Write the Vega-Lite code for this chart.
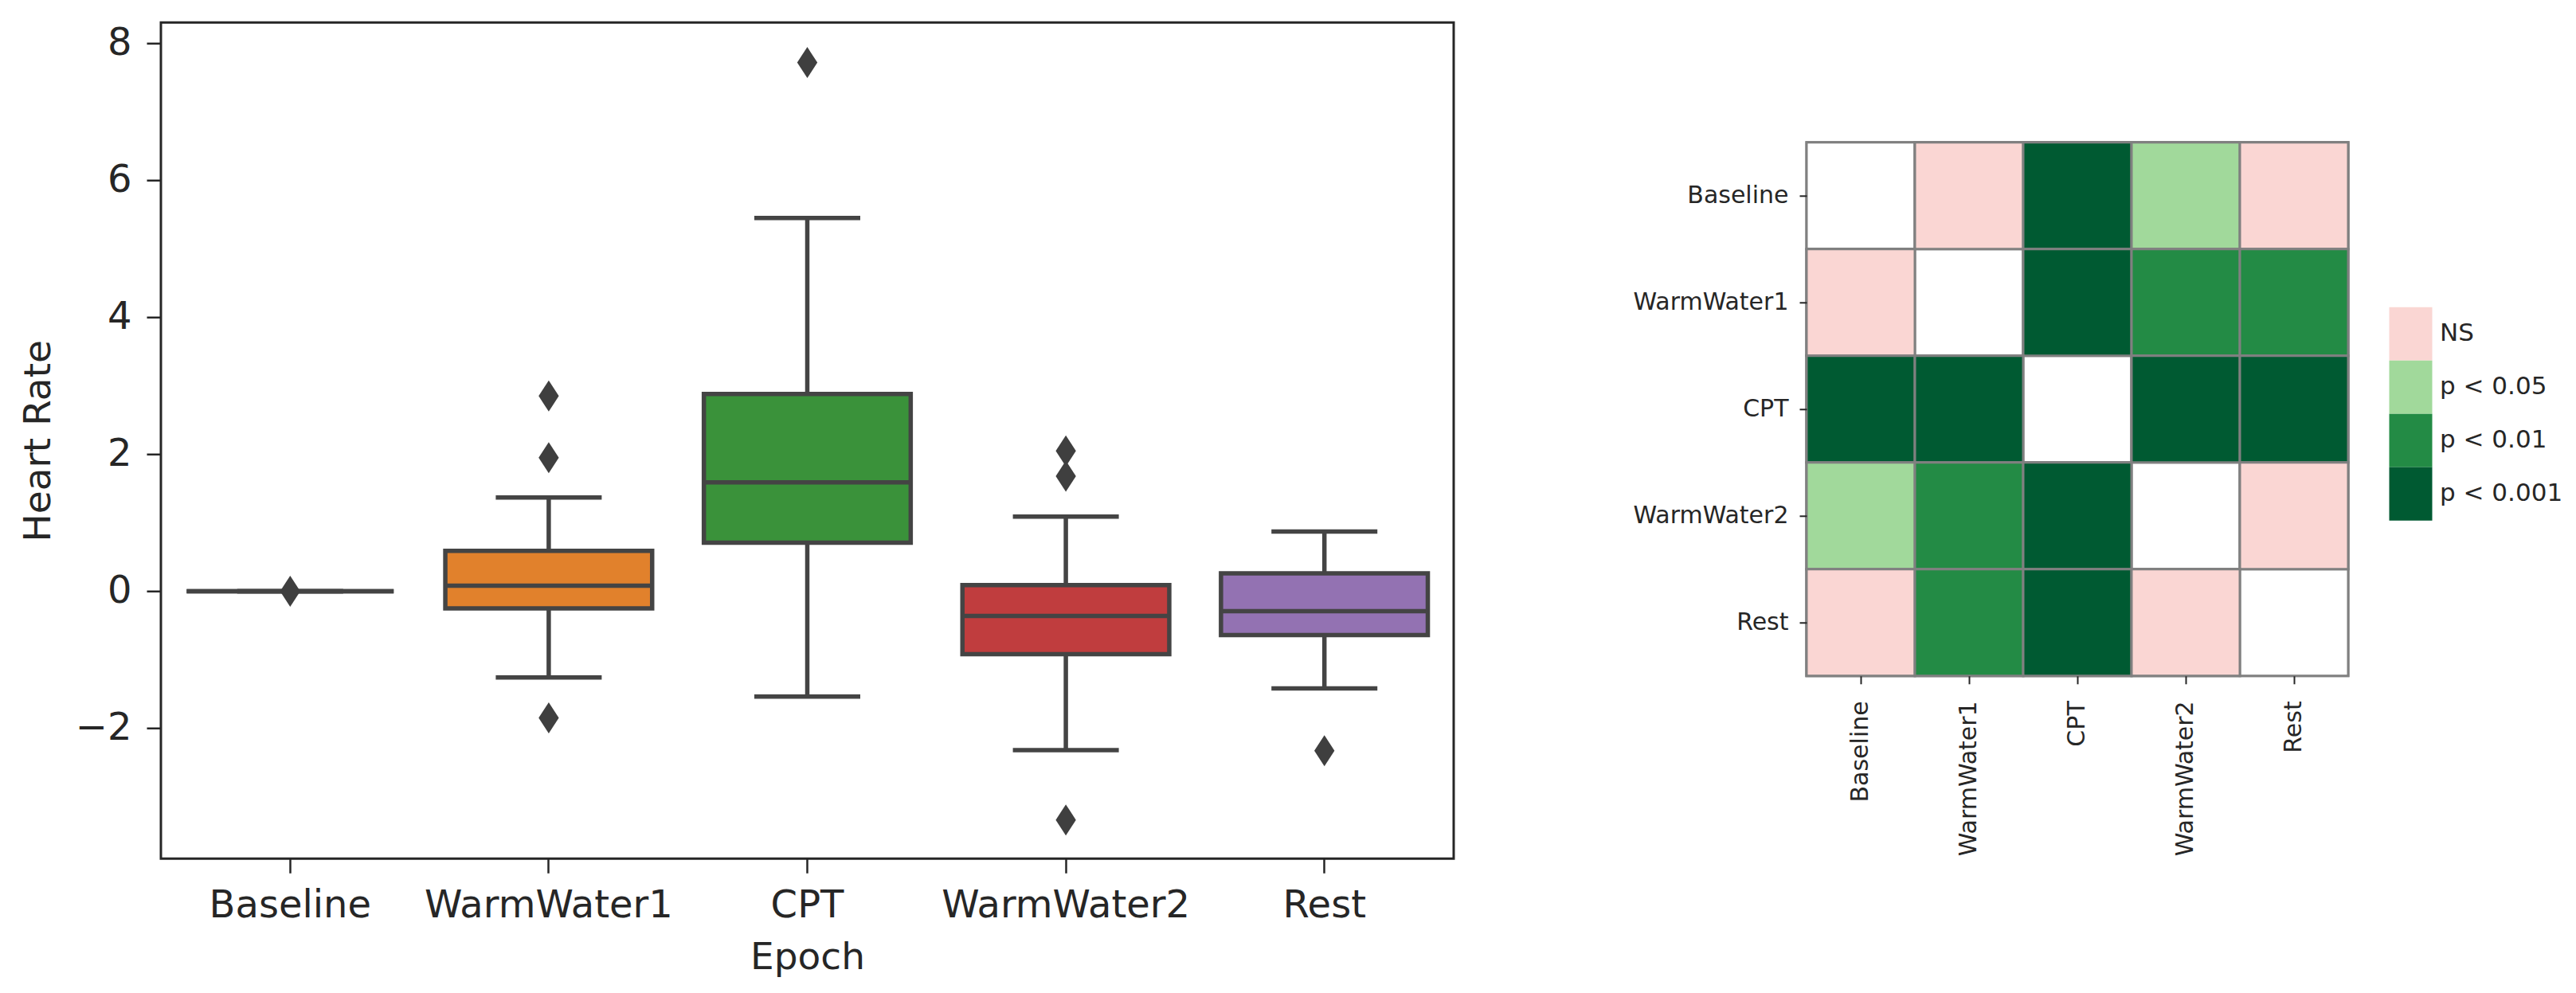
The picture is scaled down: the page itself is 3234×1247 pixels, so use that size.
{
  "$schema": "https://vega.github.io/schema/vega-lite/v6.json",
  "background": "white",
  "padding": {"left": 22, "top": 26, "right": 10, "bottom": 5},
  "config": {"font": "DejaVu Sans", "view": {"stroke": null}, "axis": {"labelLimit": 0}},
  "center": true,
  "spacing": 221,
  "resolve": {"scale": {"color": "independent", "x": "independent", "y": "independent"}},
  "hconcat": [
    {
      "width": 1623,
      "height": 1050,
      "view": {"stroke": "#262626", "strokeWidth": 3},
      "layer": [
        {
          "data": {"name": "summary", "values": [
            {"epoch": "Baseline", "lower": 0, "q1": 0, "median": 0, "q3": 0, "upper": 0},
            {"epoch": "WarmWater1", "lower": -1.26, "q1": -0.25, "median": 0.08, "q3": 0.59, "upper": 1.37},
            {"epoch": "CPT", "lower": -1.54, "q1": 0.71, "median": 1.59, "q3": 2.88, "upper": 5.45},
            {"epoch": "WarmWater2", "lower": -2.32, "q1": -0.92, "median": -0.36, "q3": 0.09, "upper": 1.09},
            {"epoch": "Rest", "lower": -1.42, "q1": -0.64, "median": -0.29, "q3": 0.26, "upper": 0.87}
          ]},
          "layer": [
            {
              "mark": {"type": "rule", "color": "#444444", "strokeWidth": 5.5},
              "encoding": {
                "x": {"field": "epoch", "type": "nominal",
                  "scale": {"domain": ["Baseline", "WarmWater1", "CPT", "WarmWater2", "Rest"], "paddingInner": 0, "paddingOuter": 0},
                  "axis": {"title": "Epoch", "labelAngle": 0, "domain": false, "ticks": true, "tickSize": 18, "tickWidth": 2.5, "tickColor": "#262626",
                    "labelFontSize": 48, "labelColor": "#262626", "labelPadding": 17,
                    "titleFontSize": 47, "titleFontWeight": "normal", "titleColor": "#262626", "titlePadding": 18}},
                "y": {"field": "lower", "type": "quantitative",
                  "scale": {"domain": [-3.905, 8.305], "nice": false, "zero": false},
                  "axis": {"title": "Heart Rate", "values": [-2, 0, 2, 4, 6, 8], "format": "d", "grid": false, "domain": false, "tickSize": 18, "tickWidth": 2.5, "tickColor": "#262626",
                    "labelFontSize": 48, "labelColor": "#262626", "labelPadding": 19,
                    "titleFontSize": 47, "titleFontWeight": "normal", "titleColor": "#262626", "titlePadding": 22}},
                "y2": {"field": "upper"}
              }
            },
            {
              "mark": {"type": "bar", "stroke": "#444444", "strokeWidth": 5.5, "width": {"band": 0.8}, "fillOpacity": 1},
              "encoding": {
                "x": {"field": "epoch", "type": "nominal"},
                "y": {"field": "q1", "type": "quantitative"},
                "y2": {"field": "q3"},
                "color": {"field": "epoch", "type": "nominal",
                  "scale": {"domain": ["Baseline", "WarmWater1", "CPT", "WarmWater2", "Rest"], "range": ["#3274a1", "#e1812c", "#3a923a", "#c03d3e", "#9372b2"]},
                  "legend": null}
              }
            },
            {
              "mark": {"type": "tick", "color": "#444444", "thickness": 5.5, "size": 260, "orient": "horizontal", "opacity": 1},
              "encoding": {
                "x": {"field": "epoch", "type": "nominal"},
                "y": {"field": "median", "type": "quantitative"}
              }
            },
            {
              "mark": {"type": "tick", "color": "#444444", "thickness": 5.5, "size": 133, "orient": "horizontal", "opacity": 1},
              "encoding": {
                "x": {"field": "epoch", "type": "nominal"},
                "y": {"field": "lower", "type": "quantitative"}
              }
            },
            {
              "mark": {"type": "tick", "color": "#444444", "thickness": 5.5, "size": 133, "orient": "horizontal", "opacity": 1},
              "encoding": {
                "x": {"field": "epoch", "type": "nominal"},
                "y": {"field": "upper", "type": "quantitative"}
              }
            }
          ]
        },
        {
          "data": {"name": "outliers", "values": [
            {"epoch": "Baseline", "value": 0.0},
            {"epoch": "WarmWater1", "value": 2.85},
            {"epoch": "WarmWater1", "value": 1.95},
            {"epoch": "WarmWater1", "value": -1.85},
            {"epoch": "CPT", "value": 7.72},
            {"epoch": "WarmWater2", "value": 2.05},
            {"epoch": "WarmWater2", "value": 1.68},
            {"epoch": "WarmWater2", "value": -3.34},
            {"epoch": "Rest", "value": -2.33}
          ]},
          "mark": {"type": "point", "shape": "M0,-1L0.65,0L0,1L-0.65,0Z", "size": 1521, "filled": true, "color": "#3f3f3f", "opacity": 1},
          "encoding": {
            "x": {"field": "epoch", "type": "nominal"},
            "y": {"field": "value", "type": "quantitative"}
          }
        }
      ]
    },
    {
      "width": 680,
      "height": 670,
      "view": {"stroke": "#808080", "strokeWidth": 3},
      "data": {"values": [
        {"row": "Baseline", "col": "Baseline", "level": null},
        {"row": "Baseline", "col": "WarmWater1", "level": "NS"},
        {"row": "Baseline", "col": "CPT", "level": "p < 0.001"},
        {"row": "Baseline", "col": "WarmWater2", "level": "p < 0.05"},
        {"row": "Baseline", "col": "Rest", "level": "NS"},
        {"row": "WarmWater1", "col": "Baseline", "level": "NS"},
        {"row": "WarmWater1", "col": "WarmWater1", "level": null},
        {"row": "WarmWater1", "col": "CPT", "level": "p < 0.001"},
        {"row": "WarmWater1", "col": "WarmWater2", "level": "p < 0.01"},
        {"row": "WarmWater1", "col": "Rest", "level": "p < 0.01"},
        {"row": "CPT", "col": "Baseline", "level": "p < 0.001"},
        {"row": "CPT", "col": "WarmWater1", "level": "p < 0.001"},
        {"row": "CPT", "col": "CPT", "level": null},
        {"row": "CPT", "col": "WarmWater2", "level": "p < 0.001"},
        {"row": "CPT", "col": "Rest", "level": "p < 0.001"},
        {"row": "WarmWater2", "col": "Baseline", "level": "p < 0.05"},
        {"row": "WarmWater2", "col": "WarmWater1", "level": "p < 0.01"},
        {"row": "WarmWater2", "col": "CPT", "level": "p < 0.001"},
        {"row": "WarmWater2", "col": "WarmWater2", "level": null},
        {"row": "WarmWater2", "col": "Rest", "level": "NS"},
        {"row": "Rest", "col": "Baseline", "level": "NS"},
        {"row": "Rest", "col": "WarmWater1", "level": "p < 0.01"},
        {"row": "Rest", "col": "CPT", "level": "p < 0.001"},
        {"row": "Rest", "col": "WarmWater2", "level": "NS"},
        {"row": "Rest", "col": "Rest", "level": null}
      ]},
      "layer": [
        {
          "mark": {"type": "rect", "fill": "white", "stroke": "#808080", "strokeWidth": 3},
          "encoding": {
            "x": {"field": "col", "type": "nominal",
              "scale": {"domain": ["Baseline", "WarmWater1", "CPT", "WarmWater2", "Rest"], "paddingInner": 0, "paddingOuter": 0},
              "axis": {"title": null, "labelAngle": 270, "domain": false, "ticks": true, "tickSize": 10, "tickWidth": 2, "tickColor": "#262626",
                "labelFontSize": 30, "labelColor": "#262626", "labelPadding": 21}},
            "y": {"field": "row", "type": "nominal",
              "scale": {"domain": ["Baseline", "WarmWater1", "CPT", "WarmWater2", "Rest"], "paddingInner": 0, "paddingOuter": 0},
              "axis": {"title": null, "domain": false, "ticks": true, "tickSize": 9, "tickWidth": 2, "tickColor": "#262626",
                "labelFontSize": 30, "labelColor": "#262626", "labelPadding": 14}}
          }
        },
        {
          "transform": [{"filter": "isValid(datum.level)"}],
          "mark": {"type": "rect", "stroke": "#808080", "strokeWidth": 3, "opacity": 1},
          "encoding": {
            "x": {"field": "col", "type": "nominal"},
            "y": {"field": "row", "type": "nominal"},
            "color": {"field": "level", "type": "nominal",
              "scale": {"domain": ["NS", "p < 0.05", "p < 0.01", "p < 0.001"], "range": ["#fad6d3", "#a1d99b", "#238b45", "#005a32"]},
              "legend": {"orient": "none", "legendX": 725, "legendY": 207, "title": null,
                "symbolType": "M-0.806,-1H0.806V1H-0.806Z", "symbolSize": 4489, "symbolStrokeWidth": 0, "symbolOpacity": 1,
                "rowPadding": 0, "padding": 0, "labelFontSize": 31, "labelColor": "#262626", "labelOffset": 3}}
          }
        }
      ]
    }
  ]
}
